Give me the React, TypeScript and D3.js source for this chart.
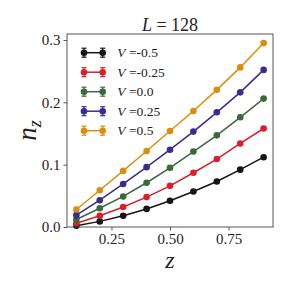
import React, { useEffect, useRef } from 'react';
import * as d3 from 'd3';

// z positions
const zValues = [0.1, 0.2, 0.3, 0.4, 0.5, 0.6, 0.7, 0.8, 0.9];

const vLabels = ['-0.5', '-0.25', '0.0', '0.25', '0.5'];
const seriesColors = ['#151515', '#d7202a', '#3a6a3c', '#3a2b8e', '#d98f0c'];

const nzMinus05 = [0.002, 0.009, 0.018, 0.029, 0.042, 0.057, 0.073, 0.092, 0.112];
const nzMinus025 = [0.006, 0.018, 0.032, 0.048, 0.066, 0.087, 0.109, 0.134, 0.158];
const nzZero = [0.012, 0.030, 0.049, 0.071, 0.095, 0.121, 0.147, 0.176, 0.206];
const nzPlus025 = [0.019, 0.043, 0.069, 0.096, 0.124, 0.153, 0.184, 0.216, 0.252];
const nzPlus05 = [0.028, 0.059, 0.090, 0.122, 0.154, 0.186, 0.220, 0.256, 0.295];

const allSeries = [nzMinus05, nzMinus025, nzZero, nzPlus025, nzPlus05];

const xTicks = [0.25, 0.5, 0.75];
const yTicks = [0.0, 0.1, 0.2, 0.3];

const FONT = '"Liberation Serif", "DejaVu Serif", serif';

const App: React.FC = () => {
  const svgRef = useRef<SVGSVGElement>(null);
  const width = 291;
  const height = 291;

  useEffect(() => {
    const svg = d3.select(svgRef.current);
    svg.selectAll('*').remove(); // limpa o SVG

    const margin = { top: 34, right: 18, bottom: 64, left: 67 };
    const innerWidth = width - margin.left - margin.right;
    const innerHeight = height - margin.top - margin.bottom;

    const x = d3.scaleLinear().domain([0.06, 0.94]).range([0, innerWidth]);
    const y = d3.scaleLinear().domain([0, 0.3096]).range([innerHeight, 0]);

    const g = svg.append('g')
      .attr('transform', `translate(${margin.left},${margin.top})`);

    // series
    const line = d3.line<number>()
      .x((d, i) => x(zValues[i]))
      .y(d => y(d));

    allSeries.forEach((values, k) => {
      g.append('path')
        .datum(values)
        .attr('d', line)
        .attr('fill', 'none')
        .attr('stroke', seriesColors[k])
        .attr('stroke-width', 1.5);

      g.selectAll(`circle.s${k}`)
        .data(values)
        .join('circle')
        .attr('class', `s${k}`)
        .attr('cx', (d, i) => x(zValues[i]))
        .attr('cy', d => y(d))
        .attr('r', 3.3)
        .attr('fill', seriesColors[k]);
    });

    // frame
    g.append('rect')
      .attr('width', innerWidth)
      .attr('height', innerHeight)
      .attr('fill', 'none')
      .attr('stroke', '#444')
      .attr('stroke-width', 0.9);

    const xAxis = d3.axisBottom(x)
      .tickValues(xTicks)
      .tickFormat(d3.format('.2f'))
      .tickSize(3.5)
      .tickPadding(3);
    const yAxis = d3.axisLeft(y)
      .tickValues(yTicks)
      .tickFormat(d3.format('.1f'))
      .tickSize(3.5)
      .tickPadding(3);

    const xg = g.append('g')
      .attr('transform', `translate(0,${innerHeight})`)
      .call(xAxis);
    const yg = g.append('g').call(yAxis);

    [xg, yg].forEach(a => {
      a.select('.domain').remove();
      a.selectAll('line').attr('stroke', '#444').attr('stroke-width', 0.9);
      a.selectAll('text')
        .attr('fill', '#222')
        .style('font-family', FONT)
        .style('font-size', '15px');
    });

    // legend
    const legend = g.append('g').attr('transform', 'translate(17,18.7)');
    vLabels.forEach((lab, k) => {
      const row = legend.append('g').attr('transform', `translate(0,${k * 19.5})`);
      const c = seriesColors[k];
      row.append('line')
        .attr('x1', 0).attr('x2', 18.7)
        .attr('stroke', c).attr('stroke-width', 1.5);
      [0, 18.7].forEach(px => {
        row.append('line')
          .attr('x1', px).attr('x2', px).attr('y1', -4.5).attr('y2', 4.5)
          .attr('stroke', c).attr('stroke-width', 1.2);
        row.append('line')
          .attr('x1', px - 2.5).attr('x2', px + 2.5).attr('y1', -4.5).attr('y2', -4.5)
          .attr('stroke', c).attr('stroke-width', 1.2);
        row.append('line')
          .attr('x1', px - 2.5).attr('x2', px + 2.5).attr('y1', 4.5).attr('y2', 4.5)
          .attr('stroke', c).attr('stroke-width', 1.2);
        row.append('circle')
          .attr('cx', px).attr('r', 3.3).attr('fill', c);
      });
      const t = row.append('text')
        .attr('x', 33.3)
        .attr('y', 4.5)
        .attr('fill', '#222')
        .style('font-family', FONT)
        .style('font-size', '13.5px');
      t.append('tspan').style('font-style', 'italic').text('V');
      t.append('tspan').text(` =${lab}`);
    });

    // title
    const title = svg.append('text')
      .attr('x', margin.left + innerWidth / 2)
      .attr('y', 30.5)
      .attr('text-anchor', 'middle')
      .attr('fill', '#222')
      .style('font-family', FONT)
      .style('font-size', '18px');
    title.append('tspan').style('font-style', 'italic').text('L');
    title.append('tspan').text(' = 128');

    // x label
    svg.append('text')
      .attr('x', margin.left + innerWidth / 2)
      .attr('y', 268)
      .attr('text-anchor', 'middle')
      .attr('fill', '#222')
      .style('font-family', FONT)
      .style('font-style', 'italic')
      .style('font-size', '24px')
      .text('z');

    // y label
    const yl = svg.append('text')
      .attr('transform', `translate(36,${margin.top + innerHeight / 2}) rotate(-90)`)
      .attr('text-anchor', 'middle')
      .attr('fill', '#222')
      .style('font-family', FONT)
      .style('font-style', 'italic')
      .style('font-size', '27px');
    yl.append('tspan').text('n');
    yl.append('tspan').attr('dy', 5).style('font-size', '18px').text('z');
  }, []);

  return (
    <svg ref={svgRef} width={width} height={height}
      style={{ position: 'absolute', left: 0, top: 0, background: '#fff' }} />
  );
};

export default App;
